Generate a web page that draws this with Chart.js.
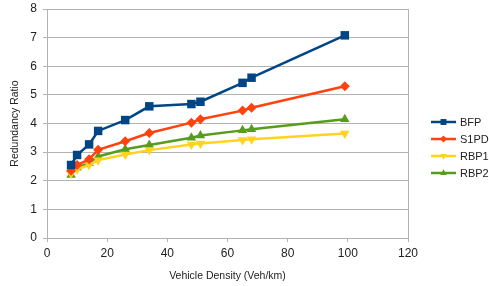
<!DOCTYPE html>
<html>
<head>
<meta charset="utf-8">
<script src="https://cdn.jsdelivr.net/npm/chart.js@4"></script>
<style>
  html, body { margin: 0; padding: 0; background: #fff; }
  #wrap { width: 489px; height: 286px; }
</style>
</head>
<body>
<div id="wrap"><canvas id="chart" width="489" height="286"></canvas></div>
<script>
const density = [8, 10, 14, 17, 26, 34, 48, 51, 65, 68, 99];
const bfp  = [2.55, 2.9, 3.27, 3.74, 4.12, 4.6, 4.68, 4.76, 5.42, 5.6, 7.08];
const s1pd = [2.35, 2.55, 2.75, 3.08, 3.38, 3.67, 4.03, 4.15, 4.45, 4.55, 5.3];
const rbp1 = [2.25, 2.4, 2.55, 2.72, 2.92, 3.07, 3.27, 3.3, 3.42, 3.45, 3.65];
const rbp2 = [2.2, 2.45, 2.62, 2.85, 3.1, 3.25, 3.5, 3.58, 3.76, 3.8, 4.15];

const toPts = vals => density.map((x, i) => ({ x, y: vals[i] }));

function series(label, vals, color, style, rot, r) {
  return {
    label, data: toPts(vals),
    borderColor: color, backgroundColor: color,
    borderWidth: 2.5, pointStyle: style, pointRotation: rot,
    pointRadius: r, pointHoverRadius: r, pointBorderWidth: 0,
    tension: 0, showLine: true
  };
}

const legendPlugin = {
  id: 'sideLegend',
  afterDraw(chart) {
    const ctx = chart.ctx;
    ctx.save();
    chart.data.datasets.forEach((ds, i) => {
      const y = 122 + i * 17;
      ctx.strokeStyle = ds.borderColor;
      ctx.lineWidth = 2.5;
      ctx.beginPath();
      ctx.moveTo(431, y);
      ctx.lineTo(456, y);
      ctx.stroke();
      ctx.fillStyle = ds.backgroundColor;
      Chart.helpers.drawPoint(ctx, {
        pointStyle: ds.pointStyle, rotation: ds.pointRotation,
        radius: ds.pointRadius * 0.7, borderWidth: 0
      }, 443.5, y);
      ctx.fillStyle = '#222';
      ctx.font = '11px "Liberation Sans", Arial, sans-serif';
      ctx.textBaseline = 'middle';
      ctx.fillText(ds.label, 460, y + 1);
    });
    ctx.restore();
  }
};

new Chart(document.getElementById('chart').getContext('2d'), {
  type: 'scatter',
  data: {
    datasets: [
      series('BFP', bfp, '#004586', 'rect', 0, 6),
      series('S1PD', s1pd, '#ff420e', 'rectRot', 0, 5),
      series('RBP1', rbp1, '#ffd320', 'triangle', 180, 5.5),
      series('RBP2', rbp2, '#579d1c', 'triangle', 0, 5.5)
    ]
  },
  options: {
    responsive: false,
    animation: false,
    layout: { padding: { top: 9, right: 81, left: 0, bottom: 0 } },
    plugins: { legend: { display: false }, tooltip: { enabled: false } },
    scales: {
      x: {
        type: 'linear', min: 0, max: 120,
        ticks: { stepSize: 20, color: '#222', font: { family: '"Liberation Sans", Arial', size: 12 }, padding: 4 },
        grid: { display: true, drawOnChartArea: false, color: '#b3b3b3', tickLength: 4 },
        border: { color: '#b3b3b3' },
        title: { display: true, text: 'Vehicle Density (Veh/km)', color: '#222',
                 font: { family: '"Liberation Sans", Arial', size: 10.5 }, padding: { top: 6 } },
        afterFit(s) { s.height = 48; s.paddingLeft = 0; s.paddingRight = 0; }
      },
      y: {
        min: 0, max: 8,
        ticks: { stepSize: 1, color: '#222', font: { family: '"Liberation Sans", Arial', size: 12 }, padding: 6 },
        grid: { color: '#b3b3b3', tickLength: 4 },
        border: { color: '#b3b3b3' },
        title: { display: true, text: 'Redundancy Ratio', color: '#222',
                 font: { family: '"Liberation Sans", Arial', size: 10.5 }, padding: { top: 9, bottom: 2 } },
        afterFit(s) { s.width = 47; s.paddingTop = 0; s.paddingBottom = 0; }
      }
    }
  },
  plugins: [legendPlugin, {
    id: 'rightBorder',
    beforeDatasetsDraw(chart) {
      const a = chart.chartArea, ctx = chart.ctx;
      ctx.save();
      ctx.strokeStyle = '#b3b3b3';
      ctx.lineWidth = 1;
      ctx.beginPath();
      ctx.moveTo(Math.round(a.right) + 0.5, a.top);
      ctx.lineTo(Math.round(a.right) + 0.5, a.bottom + 4);
      ctx.stroke();
      ctx.restore();
    }
  }]
});
</script>
</body>
</html>
